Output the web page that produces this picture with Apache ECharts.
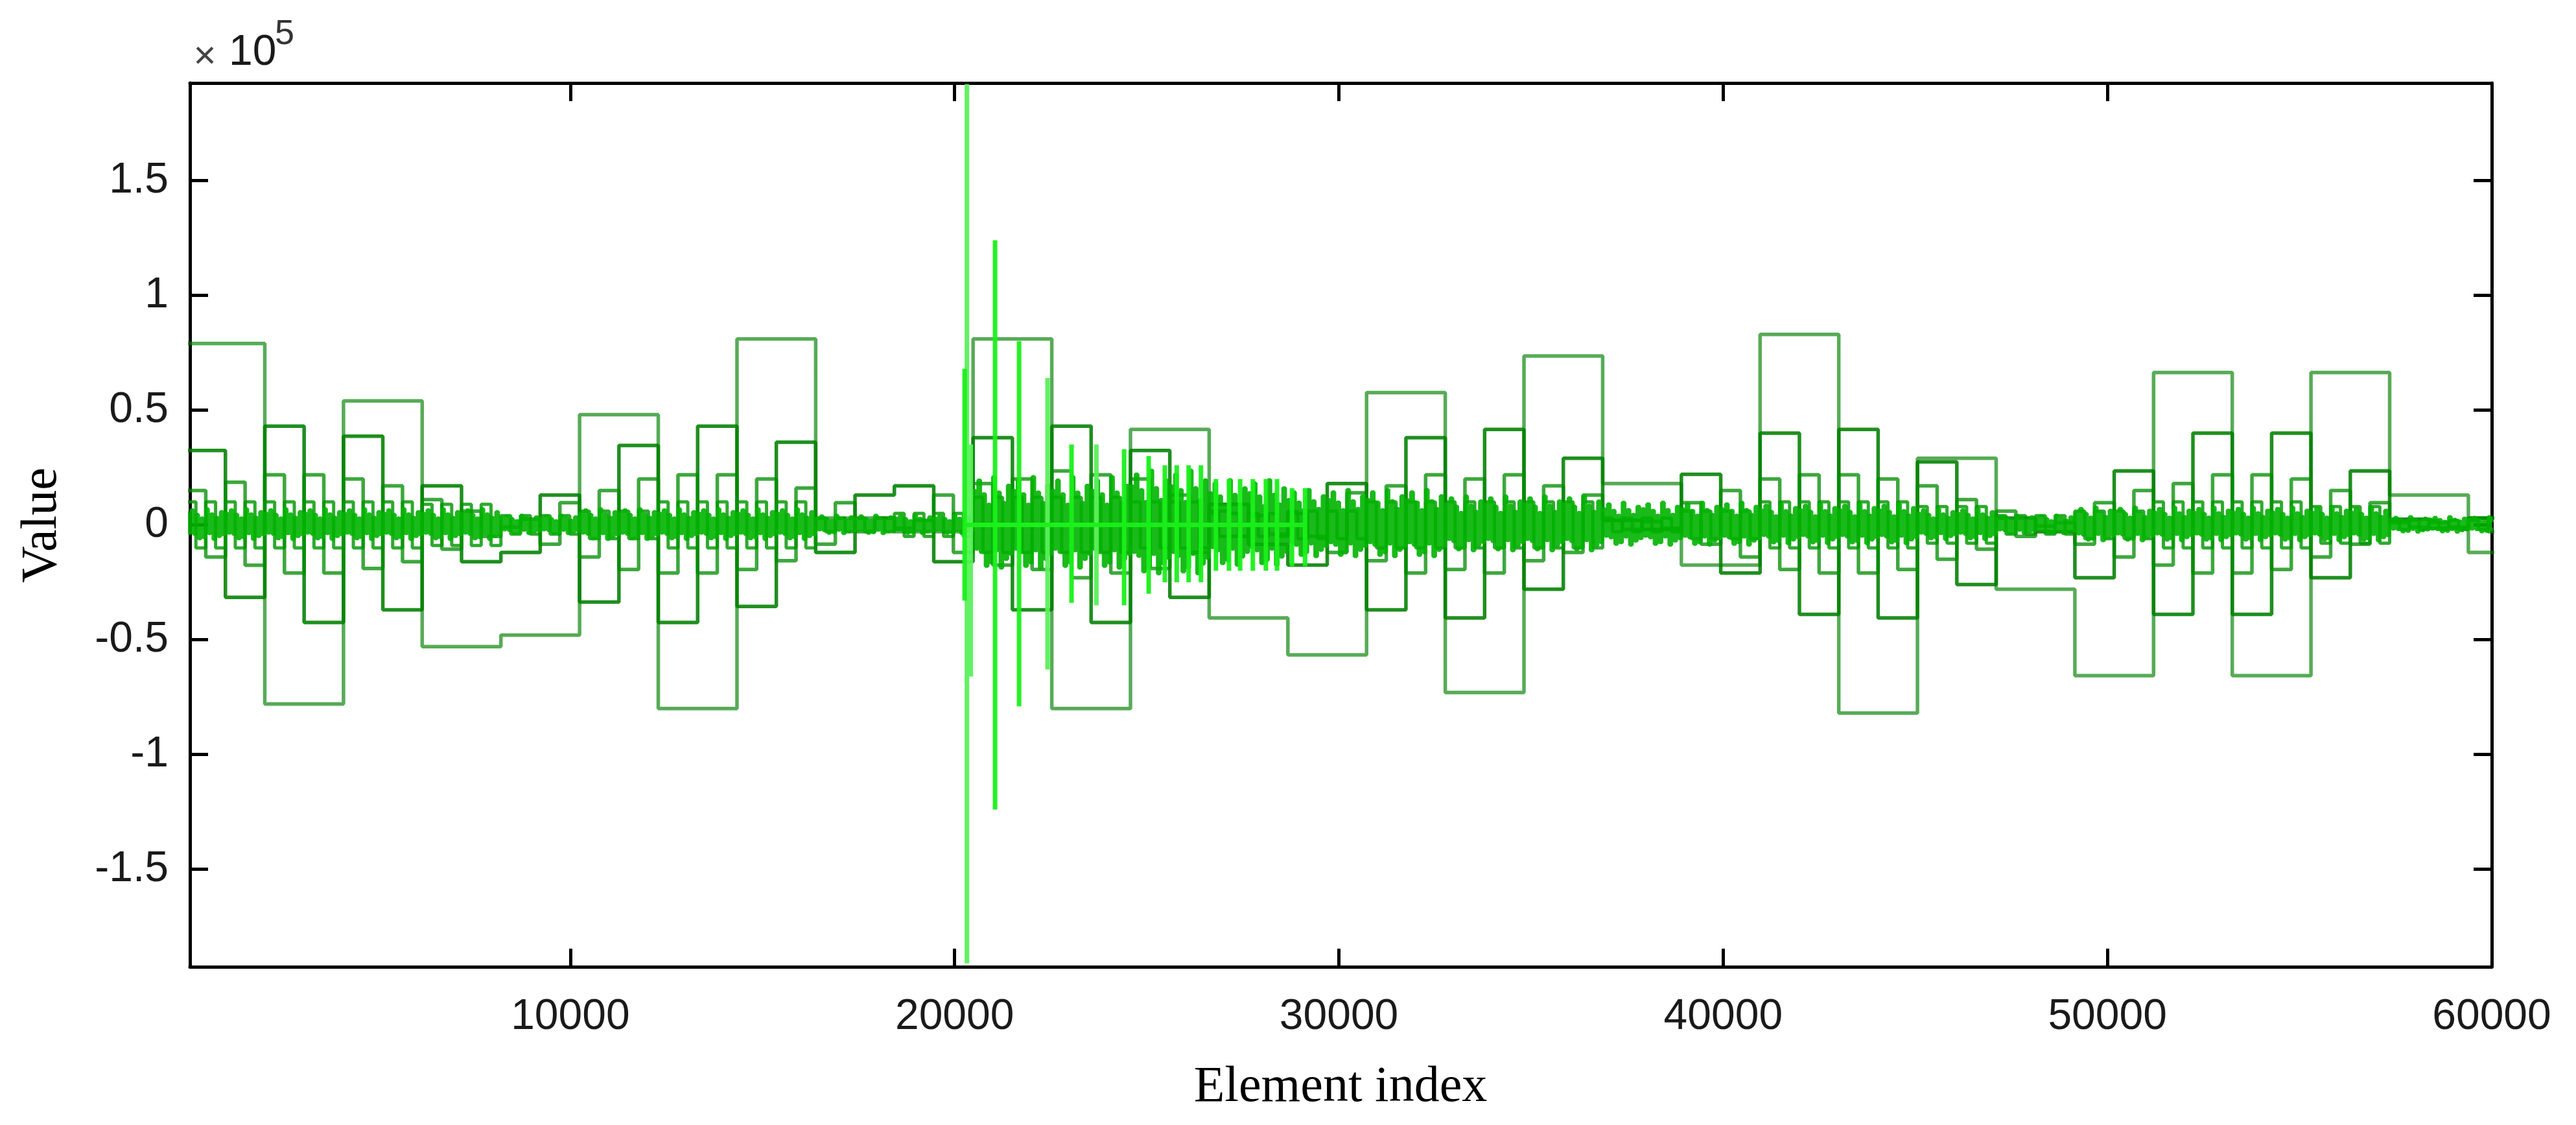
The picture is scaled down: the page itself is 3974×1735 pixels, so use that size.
<!DOCTYPE html>
<html>
<head>
<meta charset="utf-8">
<title>Element index / Value</title>
<script src="https://cdn.jsdelivr.net/npm/echarts@6/dist/echarts.min.js"></script>
<style>
  html, body { margin: 0; padding: 0; background: #fff; }
  #chart { width: 3974px; height: 1735px; }
</style>
</head>
<body>
<div id="chart"></div>
<script>
// values are in units of 1e5 (see the "x10^5" mark)
const xTicks = [10000, 20000, 30000, 40000, 50000, 60000];
const yTicks = [-1.5, -1, -0.5, 0, 0.5, 1, 1.5];

// level 1: one value per 2048 elements
const level1 = [0.79, -0.78, 0.54, -0.53, -0.48, 0.48, -0.80, 0.81, 0.03, -0.03,
  0.81, -0.80, 0.416, -0.405, -0.566, 0.576, -0.73, 0.736, 0.18, -0.175,
  0.83, -0.82, 0.29, -0.28, -0.657, 0.664, -0.657, 0.664, 0.13, -0.12];

// level 2: one value per 1024 elements
const level2 = [0.324, -0.316, 0.43, -0.425, 0.386, -0.37, 0.17, -0.16, -0.12, 0.13,
  -0.336, 0.346, -0.425, 0.43, -0.355, 0.36, -0.12, 0.13, 0.17, -0.16,
  0.38, -0.37, 0.43, -0.425, 0.324, -0.316, 0.09, -0.085, -0.175, 0.18,
  -0.37, 0.38, -0.405, 0.416, -0.28, 0.29, 0.02, -0.02, 0.22, -0.21,
  0.40, -0.39, 0.416, -0.405, 0.275, -0.26, 0.03, -0.03, -0.23, 0.235,
  -0.39, 0.40, -0.39, 0.40, -0.23, 0.235, 0.025, -0.015, 0.03, -0.03];

// level 3: one value per 512 elements
const level3 = [0.15, -0.14, 0.186, -0.176, 0.218, -0.21, 0.218, -0.21, 0.2, -0.19,
  0.17, -0.16, 0.11, -0.106, 0.06, -0.05, -0.01, 0.025, -0.084, 0.097,
  -0.14, 0.15, -0.194, 0.2, -0.21, 0.218, -0.21, 0.218, -0.194, 0.2,
  -0.156, 0.16, -0.084, 0.097, -0.03, 0.03, -0.015, 0.02, 0.13, -0.12,
  0.18, -0.175, 0.2, -0.194, 0.235, -0.23, 0.218, -0.21, 0.2, -0.19,
  0.13, -0.12, 0.06, -0.05, 0.04, -0.04, 0.05, -0.05, -0.12, 0.14,
  -0.156, 0.17, -0.21, 0.218, -0.194, 0.2, -0.21, 0.218, -0.156, 0.17,
  -0.12, 0.13, 0.02, -0.02, 0.015, -0.015, 0.097, -0.084, 0.15, -0.14,
  0.2, -0.194, 0.218, -0.21, 0.218, -0.21, 0.2, -0.194, 0.17, -0.15,
  0.11, -0.106, 0.06, -0.05, -0.005, 0.01, -0.084, 0.097, -0.14, 0.15,
  -0.175, 0.18, -0.21, 0.218, -0.21, 0.218, -0.194, 0.2, -0.14, 0.15,
  -0.084, 0.097, 0.01, -0.01, 0.01, -0.01, 0.03, -0.03];

// level 4: height of the 256-wide steps, per 2048 elements
const level4Amp = [0.1, 0.1, 0.1, 0.09, 0.04, 0.06, 0.1, 0.1, 0.03, 0.05,
  0.12, 0.12, 0.1, 0.05, 0.06, 0.1, 0.1, 0.1, 0.03, 0.06,
  0.1, 0.1, 0.08, 0.04, 0.06, 0.1, 0.1, 0.08, 0.02, 0.02];

// fine detail band: height per 1024 elements, and relative spike heights
const noiseAmp = [0.05, 0.05, 0.05, 0.05, 0.05, 0.05, 0.05, 0.05, 0.03, 0.03,
  0.05, 0.05, 0.05, 0.05, 0.05, 0.05, 0.03, 0.03, 0.03, 0.03,
  0.15, 0.15, 0.15, 0.15, 0.17, 0.17, 0.14, 0.14, 0.11, 0.11,
  0.11, 0.11, 0.09, 0.09, 0.09, 0.09, 0.07, 0.07, 0.07, 0.07,
  0.065, 0.065, 0.065, 0.065, 0.05, 0.05, 0.03, 0.03, 0.055, 0.055,
  0.055, 0.055, 0.055, 0.055, 0.055, 0.055, 0.025, 0.025, 0.025, 0.025];
const noiseShape = [1.0, 0.7, 1.3, 0.8, 0.9, 1.2, 0.6, 1.1, 1.4, 0.75, 0.95, 1.25, 0.65, 1.0, 1.15, 0.85];

// isolated spikes: [element index, top, bottom]
const spikesLight = [[20320, 1.92, -1.91], [20420, 0.35, -0.66], [22417, 0.64, -0.63], [23690, 0.35, -0.35]];
const spikesBright = [[20260, 0.68, -0.33], [21052, 1.24, -1.24], [21677, 0.80, -0.79], [23042, 0.35, -0.34],
  [24410, 0.33, -0.35], [25050, 0.30, -0.30], [25470, 0.26, -0.25], [25780, 0.26, -0.25],
  [26090, 0.26, -0.25], [26410, 0.26, -0.25], [26800, 0.2, -0.2], [27140, 0.2, -0.2],
  [27430, 0.2, -0.2], [27760, 0.2, -0.2], [28100, 0.2, -0.2], [28390, 0.2, -0.2],
  [28780, 0.16, -0.18], [29120, 0.16, -0.18]];

const myChart = echarts.init(document.getElementById('chart'));

// step points: value k covers [k*width, (k+1)*width)
function stepData(values, width) {
  const pts = values.map((v, k) => [k * width, v]);
  pts.push([values.length * width, values[values.length - 1]]);
  return pts;
}

function level4Values() {
  const out = [];
  level4Amp.forEach(a => {
    for (let i = 0; i < 8; i++) out.push(i % 2 === 0 ? a : -a);
  });
  return out;
}

function noiseValues() {
  const out = [];
  for (let i = 0; i < 60000 / 64; i++) {
    const a = noiseAmp[Math.floor(i * 64 / 1024)];
    const s = noiseShape[i % noiseShape.length];
    out.push((i % 2 === 0 ? 1 : -1) * a * s);
  }
  return out;
}

function spikeData(list) {
  const pts = [];
  list.forEach(([x, hi, lo]) => {
    pts.push([x, 0], [x, hi], [x, lo], [x, 0]);
  });
  return pts;
}

function stepSeries(data, color, width) {
  return {
    type: 'line', step: 'end', data: data, showSymbol: false, silent: true,
    lineStyle: { color: color, width: width }
  };
}

const tickFont = { fontFamily: 'Liberation Sans, Arial, sans-serif', fontSize: 66, color: '#1a1a1a' };
const axisLine = { show: true, onZero: false, lineStyle: { color: '#000', width: 5 } };

const option = {
  animation: false,
  backgroundColor: '#fff',
  grid: { left: 293, right: 130, top: 128, bottom: 244 },
  // the detail band is brighter inside the burst region
  visualMap: {
    show: false, type: 'piecewise', dimension: 0, seriesIndex: 4,
    pieces: [
      { lt: 20400, color: 'rgba(0,175,0,0.9)' },
      { gte: 20400, lt: 31000, color: 'rgba(10,205,10,0.9)' },
      { gte: 31000, color: 'rgba(0,178,0,0.9)' }
    ]
  },
  xAxis: [
    {
      type: 'value', min: 100, max: 60000, position: 'bottom',
      axisLine: axisLine,
      axisTick: { show: true, inside: true, length: 28, customValues: xTicks, lineStyle: { color: '#000', width: 5 } },
      axisLabel: Object.assign({ margin: 45, customValues: xTicks, formatter: v => String(v) }, tickFont),
      splitLine: { show: false }
    },
    {
      type: 'value', min: 100, max: 60000, position: 'top',
      axisLine: axisLine,
      axisTick: { show: true, inside: true, length: 28, customValues: xTicks, lineStyle: { color: '#000', width: 5 } },
      axisLabel: { show: false },
      splitLine: { show: false }
    }
  ],
  yAxis: [
    {
      type: 'value', min: -1.925, max: 1.925, position: 'left',
      axisLine: axisLine,
      axisTick: { show: true, inside: true, length: 28, customValues: yTicks, lineStyle: { color: '#000', width: 5 } },
      axisLabel: Object.assign({ margin: 33, customValues: yTicks, formatter: v => String(v) }, tickFont),
      splitLine: { show: false }
    },
    {
      type: 'value', min: -1.925, max: 1.925, position: 'right',
      axisLine: axisLine,
      axisTick: { show: true, inside: true, length: 28, customValues: yTicks, lineStyle: { color: '#000', width: 5 } },
      axisLabel: { show: false },
      splitLine: { show: false }
    }
  ],
  graphic: [
    { type: 'text', x: 316, y: 88, style: { text: '×', fontFamily: 'Liberation Sans, Arial', fontSize: 60, fill: '#444', align: 'center', verticalAlign: 'middle' } },
    { type: 'text', x: 353, y: 82, style: { text: '10', fontFamily: 'Liberation Sans, Arial', fontSize: 66, fill: '#1a1a1a', align: 'left', verticalAlign: 'middle' } },
    { type: 'text', x: 424, y: 53, style: { text: '5', fontFamily: 'Liberation Sans, Arial', fontSize: 54, fill: '#333', align: 'left', verticalAlign: 'middle' } },
    { type: 'text', x: 66, y: 810, rotation: Math.PI / 2, style: { text: 'Value', fontFamily: 'Liberation Serif, Times New Roman, serif', fontSize: 78, fill: '#000', align: 'center', verticalAlign: 'middle' } },
    { type: 'text', x: 2068, y: 1678, style: { text: 'Element index', fontFamily: 'Liberation Serif, Times New Roman, serif', fontSize: 78, fill: '#000', align: 'center', verticalAlign: 'middle' } }
  ],
  series: [
    stepSeries(stepData(level1, 2048), 'rgba(0,128,0,0.66)', 5.5),
    stepSeries(stepData(level2, 1024), 'rgba(0,128,0,0.88)', 5.5),
    stepSeries(stepData(level3, 512), 'rgba(0,140,0,0.76)', 5.5),
    stepSeries(stepData(level4Values(), 256), 'rgba(0,150,0,0.82)', 5),
    stepSeries(stepData(noiseValues(), 64), 'rgba(0,178,0,0.9)', 5),
    {
      type: 'line', data: spikeData(spikesLight), showSymbol: false, silent: true,
      lineStyle: { color: 'rgba(90,240,90,0.95)', width: 7 }
    },
    {
      type: 'line', data: spikeData(spikesBright), showSymbol: false, silent: true,
      lineStyle: { color: 'rgba(25,240,25,0.95)', width: 7 }
    }
  ]
};

myChart.setOption(option);
</script>
</body>
</html>
